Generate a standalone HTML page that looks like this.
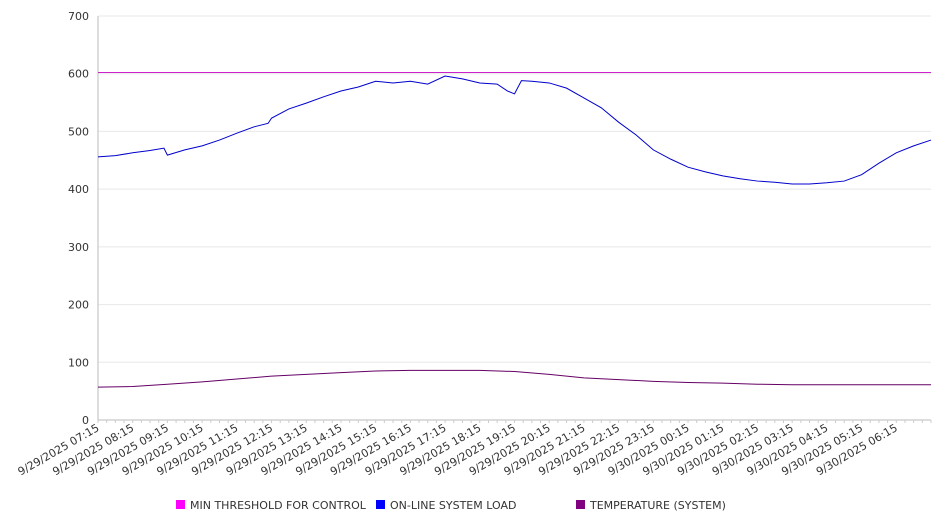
<!DOCTYPE html>
<html><head><meta charset="utf-8"><style>
body{margin:0;background:#fff;}
svg{display:block;font-family:"DejaVu Sans","Liberation Sans",sans-serif;}
</style></head><body>
<svg id="chart" width="946" height="526" viewBox="0 0 946 526" xmlns="http://www.w3.org/2000/svg">
<g id="grid"></g>
<g id="yaxis"></g>
<g id="xaxis"></g>
<g id="series"></g>
<g id="legend"></g>
</svg>
<script>
const yTicks = [0,100,200,300,400,500,600,700];
const xLabels = ["9/29/2025 07:15","9/29/2025 08:15","9/29/2025 09:15","9/29/2025 10:15","9/29/2025 11:15","9/29/2025 12:15","9/29/2025 13:15","9/29/2025 14:15","9/29/2025 15:15","9/29/2025 16:15","9/29/2025 17:15","9/29/2025 18:15","9/29/2025 19:15","9/29/2025 20:15","9/29/2025 21:15","9/29/2025 22:15","9/29/2025 23:15","9/30/2025 00:15","9/30/2025 01:15","9/30/2025 02:15","9/30/2025 03:15","9/30/2025 04:15","9/30/2025 05:15","9/30/2025 06:15"];
// hours since 07:15
const loadHours = [0,0.5,1,1.5,1.9,2,2.5,3,3.5,4,4.5,4.9,5,5.5,6,6.5,7,7.5,7.9,8,8.5,9,9.5,10,10.5,11,11.5,11.8,12,12.2,12.5,13,13.5,14,14.5,15,15.5,16,16.5,17,17.5,18,18.5,19,19.5,20,20.5,21,21.5,22,22.5,23,23.5,24];
const loadValues = [456,458,463,467,471,459,468,475,485,497,508,514,523,539,549,560,570,577,585,587,584,587,582,596,591,584,582,570,565,588,587,584,575,558,541,516,494,468,452,438,430,423,418,414,412,409,409,411,414,425,445,463,475,485];
const tempHours = [0,1,2,3,4,5,6,7,8,9,10,11,12,13,14,15,16,17,18,19,20,21,22,23,24];
const tempValues = [57,58,62,66,71,76,79,82,85,86,86,86,84,79,73,70,67,65,64,62,61,61,61,61,61];
const thresholdValue = 602;
const seriesNames = ["MIN THRESHOLD FOR CONTROL","ON-LINE SYSTEM LOAD","TEMPERATURE (SYSTEM)"];

const NS="http://www.w3.org/2000/svg";
const X0=98,X1=931,Y0=420,Y1=16,HMAX=24;
const xs=h=>X0+(h/HMAX)*(X1-X0);
const ys=v=>Y0-(v/700)*(Y0-Y1);
function mk(tag,attrs,parent){const e=document.createElementNS(NS,tag);for(const k in attrs)e.setAttribute(k,attrs[k]);parent.appendChild(e);return e;}
const grid=document.getElementById('grid'),ya=document.getElementById('yaxis'),xa=document.getElementById('xaxis'),ser=document.getElementById('series'),leg=document.getElementById('legend');
yTicks.forEach(t=>{
  const l=mk('line',{x1:X0,x2:X1,y1:ys(t),y2:ys(t),stroke:t===0?'#bbb':'#e8e8e8','stroke-width':1},grid);
  
  
  const tx=mk('text',{x:89,y:ys(t)+4,'text-anchor':'end','font-size':11,fill:'#333'},ya);
  tx.textContent=t;
  
  
});
mk('line',{x1:X0,x2:X0,y1:Y1,y2:Y0,stroke:'#bbb'},ya);
for(let i=0;i<=96;i++){const x=xs(i/4);mk('line',{x1:x,x2:x,y1:Y0,y2:Y0+3,stroke:'#ccc'},xa);}
xLabels.forEach((lab,i)=>{
  const x=xs(i)+2;
  const t=mk('text',{x:x,y:Y0+10,'text-anchor':'end','font-size':11,fill:'#333',transform:`rotate(-30 ${x} ${Y0+10})`},xa);
  t.textContent=lab;
  
  
});
const th=mk('line',{x1:X0,x2:X1,y1:ys(thresholdValue),y2:ys(thresholdValue),stroke:'#cc22cc','stroke-width':1},ser);


const lp=mk('polyline',{points:loadHours.map((h,i)=>xs(h)+','+ys(loadValues[i])).join(' '),fill:'none',stroke:'#0000cc','stroke-width':1},ser);


const tp=mk('polyline',{points:tempHours.map((h,i)=>xs(h)+','+ys(tempValues[i])).join(' '),fill:'none',stroke:'#660066','stroke-width':1},ser);


const lc=['#ff00ff','#0000ff','#800080'],lx=[176,376,576];
seriesNames.forEach((n,i)=>{
  const r=mk('rect',{x:lx[i],y:500,width:9,height:9,fill:lc[i]},leg);
  
  
  const t=mk('text',{x:lx[i]+14,y:509,'font-size':11,fill:'#333'},leg);
  t.textContent=n;
  
  
});
</script>
</body></html>
